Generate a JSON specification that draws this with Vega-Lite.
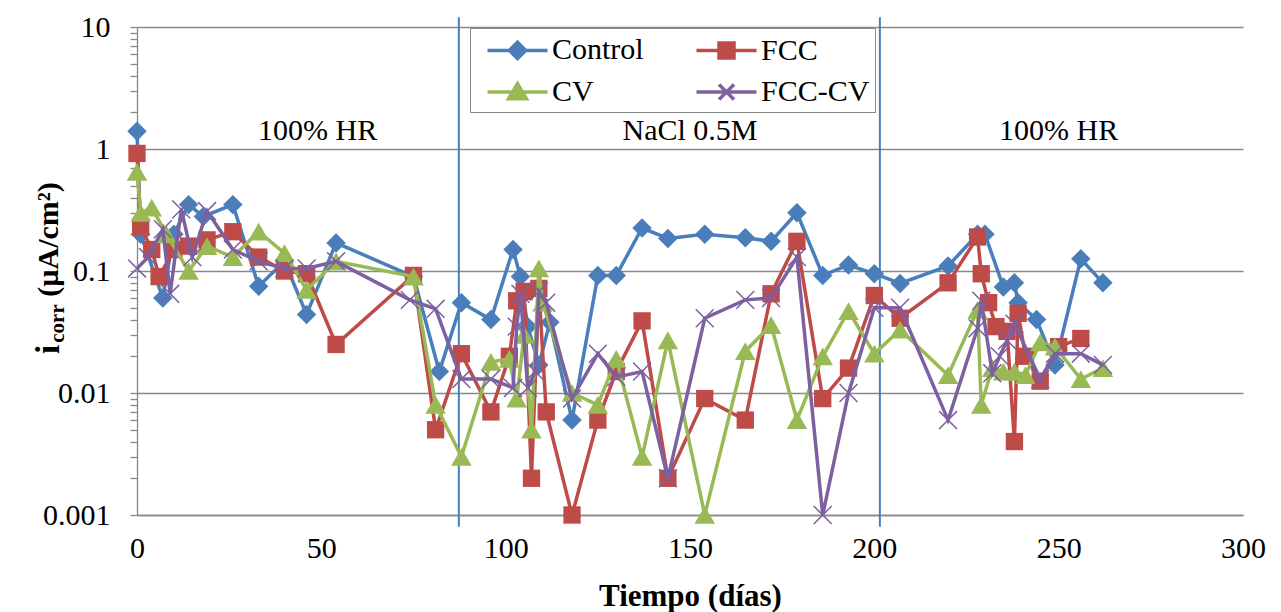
{
  "$schema": "https://vega.github.io/schema/vega-lite/v6.json",
  "width": 1106,
  "height": 488,
  "autosize": {"type": "none"},
  "padding": {"left": 137, "top": 27, "right": 38, "bottom": 97},
  "background": "white",
  "config": {
    "view": {"stroke": null},
    "font": "Liberation Serif",
    "axis": {"labelFont": "Liberation Serif", "titleFont": "Liberation Serif", "labelColor": "black", "titleColor": "black"}
  },
  "datasets": {
    "divisiones": [
      {"dia": 87.3, "ymin": 0.0008, "ymax": 12},
      {"dia": 201.5, "ymin": 0.0008, "ymax": 12}
    ],
    "zonas": [
      {"dia": 49, "y": 1.4, "t": "100% HR"},
      {"dia": 150, "y": 1.4, "t": "NaCl 0.5M"},
      {"dia": 250, "y": 1.4, "t": "100% HR"}
    ],
    "mediciones": [
      {"serie": "Control", "dia": 0, "icorr": 1.4},
      {"serie": "Control", "dia": 1, "icorr": 0.2},
      {"serie": "Control", "dia": 7, "icorr": 0.06},
      {"serie": "Control", "dia": 10, "icorr": 0.2},
      {"serie": "Control", "dia": 14, "icorr": 0.35},
      {"serie": "Control", "dia": 18, "icorr": 0.28},
      {"serie": "Control", "dia": 26, "icorr": 0.35},
      {"serie": "Control", "dia": 33, "icorr": 0.075},
      {"serie": "Control", "dia": 40, "icorr": 0.12},
      {"serie": "Control", "dia": 46, "icorr": 0.044},
      {"serie": "Control", "dia": 54, "icorr": 0.17},
      {"serie": "Control", "dia": 75, "icorr": 0.09},
      {"serie": "Control", "dia": 82, "icorr": 0.015},
      {"serie": "Control", "dia": 88, "icorr": 0.055},
      {"serie": "Control", "dia": 96, "icorr": 0.04},
      {"serie": "Control", "dia": 102, "icorr": 0.15},
      {"serie": "Control", "dia": 104, "icorr": 0.09},
      {"serie": "Control", "dia": 106, "icorr": 0.035},
      {"serie": "Control", "dia": 109, "icorr": 0.017},
      {"serie": "Control", "dia": 112, "icorr": 0.038},
      {"serie": "Control", "dia": 118, "icorr": 0.006},
      {"serie": "Control", "dia": 125, "icorr": 0.092},
      {"serie": "Control", "dia": 130, "icorr": 0.092},
      {"serie": "Control", "dia": 137, "icorr": 0.225},
      {"serie": "Control", "dia": 144, "icorr": 0.185},
      {"serie": "Control", "dia": 154, "icorr": 0.2},
      {"serie": "Control", "dia": 165, "icorr": 0.187},
      {"serie": "Control", "dia": 172, "icorr": 0.175},
      {"serie": "Control", "dia": 179, "icorr": 0.3},
      {"serie": "Control", "dia": 186, "icorr": 0.092},
      {"serie": "Control", "dia": 193, "icorr": 0.112},
      {"serie": "Control", "dia": 200, "icorr": 0.095},
      {"serie": "Control", "dia": 207, "icorr": 0.079},
      {"serie": "Control", "dia": 220, "icorr": 0.11},
      {"serie": "Control", "dia": 228, "icorr": 0.2},
      {"serie": "Control", "dia": 230, "icorr": 0.2},
      {"serie": "Control", "dia": 235, "icorr": 0.074},
      {"serie": "Control", "dia": 238, "icorr": 0.08},
      {"serie": "Control", "dia": 239, "icorr": 0.055},
      {"serie": "Control", "dia": 244, "icorr": 0.04},
      {"serie": "Control", "dia": 249, "icorr": 0.017},
      {"serie": "Control", "dia": 256, "icorr": 0.126},
      {"serie": "Control", "dia": 262, "icorr": 0.08},

      {"serie": "FCC", "dia": 0, "icorr": 0.92},
      {"serie": "FCC", "dia": 1, "icorr": 0.23},
      {"serie": "FCC", "dia": 4, "icorr": 0.15},
      {"serie": "FCC", "dia": 6, "icorr": 0.09},
      {"serie": "FCC", "dia": 10, "icorr": 0.15},
      {"serie": "FCC", "dia": 14, "icorr": 0.16},
      {"serie": "FCC", "dia": 19, "icorr": 0.18},
      {"serie": "FCC", "dia": 26, "icorr": 0.21},
      {"serie": "FCC", "dia": 33, "icorr": 0.13},
      {"serie": "FCC", "dia": 40, "icorr": 0.1},
      {"serie": "FCC", "dia": 46, "icorr": 0.095},
      {"serie": "FCC", "dia": 54, "icorr": 0.025},
      {"serie": "FCC", "dia": 75, "icorr": 0.092},
      {"serie": "FCC", "dia": 81, "icorr": 0.005},
      {"serie": "FCC", "dia": 88, "icorr": 0.021},
      {"serie": "FCC", "dia": 96, "icorr": 0.007},
      {"serie": "FCC", "dia": 101, "icorr": 0.02},
      {"serie": "FCC", "dia": 103, "icorr": 0.057},
      {"serie": "FCC", "dia": 105, "icorr": 0.068},
      {"serie": "FCC", "dia": 107, "icorr": 0.002},
      {"serie": "FCC", "dia": 109, "icorr": 0.072},
      {"serie": "FCC", "dia": 111, "icorr": 0.007},
      {"serie": "FCC", "dia": 118, "icorr": 0.001},
      {"serie": "FCC", "dia": 125, "icorr": 0.006},
      {"serie": "FCC", "dia": 130, "icorr": 0.015},
      {"serie": "FCC", "dia": 137, "icorr": 0.039},
      {"serie": "FCC", "dia": 144, "icorr": 0.002},
      {"serie": "FCC", "dia": 154, "icorr": 0.009},
      {"serie": "FCC", "dia": 165, "icorr": 0.006},
      {"serie": "FCC", "dia": 172, "icorr": 0.065},
      {"serie": "FCC", "dia": 179, "icorr": 0.175},
      {"serie": "FCC", "dia": 186, "icorr": 0.009},
      {"serie": "FCC", "dia": 193, "icorr": 0.016},
      {"serie": "FCC", "dia": 200, "icorr": 0.063},
      {"serie": "FCC", "dia": 207, "icorr": 0.041},
      {"serie": "FCC", "dia": 220, "icorr": 0.08},
      {"serie": "FCC", "dia": 228, "icorr": 0.19},
      {"serie": "FCC", "dia": 229, "icorr": 0.095},
      {"serie": "FCC", "dia": 231, "icorr": 0.055},
      {"serie": "FCC", "dia": 233, "icorr": 0.035},
      {"serie": "FCC", "dia": 236, "icorr": 0.032},
      {"serie": "FCC", "dia": 238, "icorr": 0.004},
      {"serie": "FCC", "dia": 239, "icorr": 0.045},
      {"serie": "FCC", "dia": 241, "icorr": 0.02},
      {"serie": "FCC", "dia": 245, "icorr": 0.0125},
      {"serie": "FCC", "dia": 250, "icorr": 0.024},
      {"serie": "FCC", "dia": 256, "icorr": 0.028},

      {"serie": "CV", "dia": 0, "icorr": 0.65},
      {"serie": "CV", "dia": 1, "icorr": 0.3},
      {"serie": "CV", "dia": 4, "icorr": 0.33},
      {"serie": "CV", "dia": 8, "icorr": 0.2},
      {"serie": "CV", "dia": 14, "icorr": 0.1},
      {"serie": "CV", "dia": 19, "icorr": 0.16},
      {"serie": "CV", "dia": 26, "icorr": 0.13},
      {"serie": "CV", "dia": 33, "icorr": 0.21},
      {"serie": "CV", "dia": 40, "icorr": 0.14},
      {"serie": "CV", "dia": 46, "icorr": 0.07},
      {"serie": "CV", "dia": 54, "icorr": 0.12},
      {"serie": "CV", "dia": 75, "icorr": 0.09},
      {"serie": "CV", "dia": 81, "icorr": 0.008},
      {"serie": "CV", "dia": 88, "icorr": 0.003},
      {"serie": "CV", "dia": 96, "icorr": 0.018},
      {"serie": "CV", "dia": 101, "icorr": 0.019},
      {"serie": "CV", "dia": 103, "icorr": 0.009},
      {"serie": "CV", "dia": 105, "icorr": 0.03},
      {"serie": "CV", "dia": 107, "icorr": 0.005},
      {"serie": "CV", "dia": 109, "icorr": 0.105},
      {"serie": "CV", "dia": 110, "icorr": 0.055},
      {"serie": "CV", "dia": 118, "icorr": 0.01},
      {"serie": "CV", "dia": 125, "icorr": 0.008},
      {"serie": "CV", "dia": 130, "icorr": 0.019},
      {"serie": "CV", "dia": 137, "icorr": 0.003},
      {"serie": "CV", "dia": 144, "icorr": 0.027},
      {"serie": "CV", "dia": 154, "icorr": 0.001},
      {"serie": "CV", "dia": 165, "icorr": 0.022},
      {"serie": "CV", "dia": 172, "icorr": 0.036},
      {"serie": "CV", "dia": 179, "icorr": 0.006},
      {"serie": "CV", "dia": 186, "icorr": 0.02},
      {"serie": "CV", "dia": 193, "icorr": 0.047},
      {"serie": "CV", "dia": 200, "icorr": 0.021},
      {"serie": "CV", "dia": 207, "icorr": 0.033},
      {"serie": "CV", "dia": 220, "icorr": 0.014},
      {"serie": "CV", "dia": 228, "icorr": 0.048},
      {"serie": "CV", "dia": 229, "icorr": 0.008},
      {"serie": "CV", "dia": 232, "icorr": 0.016},
      {"serie": "CV", "dia": 235, "icorr": 0.015},
      {"serie": "CV", "dia": 238, "icorr": 0.015},
      {"serie": "CV", "dia": 241, "icorr": 0.014},
      {"serie": "CV", "dia": 245, "icorr": 0.026},
      {"serie": "CV", "dia": 249, "icorr": 0.024},
      {"serie": "CV", "dia": 256, "icorr": 0.013},
      {"serie": "CV", "dia": 262, "icorr": 0.016},

      {"serie": "FCC-CV", "dia": 0, "icorr": 0.105},
      {"serie": "FCC-CV", "dia": 3, "icorr": 0.13},
      {"serie": "FCC-CV", "dia": 7, "icorr": 0.22},
      {"serie": "FCC-CV", "dia": 9, "icorr": 0.065},
      {"serie": "FCC-CV", "dia": 12, "icorr": 0.32},
      {"serie": "FCC-CV", "dia": 15, "icorr": 0.13},
      {"serie": "FCC-CV", "dia": 19, "icorr": 0.31},
      {"serie": "FCC-CV", "dia": 26, "icorr": 0.15},
      {"serie": "FCC-CV", "dia": 33, "icorr": 0.12},
      {"serie": "FCC-CV", "dia": 40, "icorr": 0.105},
      {"serie": "FCC-CV", "dia": 46, "icorr": 0.105},
      {"serie": "FCC-CV", "dia": 54, "icorr": 0.12},
      {"serie": "FCC-CV", "dia": 74, "icorr": 0.058},
      {"serie": "FCC-CV", "dia": 81, "icorr": 0.049},
      {"serie": "FCC-CV", "dia": 88, "icorr": 0.013},
      {"serie": "FCC-CV", "dia": 96, "icorr": 0.013},
      {"serie": "FCC-CV", "dia": 102, "icorr": 0.011},
      {"serie": "FCC-CV", "dia": 103, "icorr": 0.035},
      {"serie": "FCC-CV", "dia": 104, "icorr": 0.065},
      {"serie": "FCC-CV", "dia": 106, "icorr": 0.011},
      {"serie": "FCC-CV", "dia": 108, "icorr": 0.015},
      {"serie": "FCC-CV", "dia": 109, "icorr": 0.068},
      {"serie": "FCC-CV", "dia": 111, "icorr": 0.055},
      {"serie": "FCC-CV", "dia": 118, "icorr": 0.009},
      {"serie": "FCC-CV", "dia": 125, "icorr": 0.021},
      {"serie": "FCC-CV", "dia": 130, "icorr": 0.0135},
      {"serie": "FCC-CV", "dia": 137, "icorr": 0.015},
      {"serie": "FCC-CV", "dia": 144, "icorr": 0.002},
      {"serie": "FCC-CV", "dia": 154, "icorr": 0.041},
      {"serie": "FCC-CV", "dia": 165, "icorr": 0.058},
      {"serie": "FCC-CV", "dia": 172, "icorr": 0.06},
      {"serie": "FCC-CV", "dia": 179, "icorr": 0.13},
      {"serie": "FCC-CV", "dia": 186, "icorr": 0.001},
      {"serie": "FCC-CV", "dia": 193, "icorr": 0.01},
      {"serie": "FCC-CV", "dia": 200, "icorr": 0.05},
      {"serie": "FCC-CV", "dia": 207, "icorr": 0.05},
      {"serie": "FCC-CV", "dia": 220, "icorr": 0.006},
      {"serie": "FCC-CV", "dia": 228, "icorr": 0.034},
      {"serie": "FCC-CV", "dia": 229, "icorr": 0.057},
      {"serie": "FCC-CV", "dia": 232, "icorr": 0.0145},
      {"serie": "FCC-CV", "dia": 234, "icorr": 0.02},
      {"serie": "FCC-CV", "dia": 236, "icorr": 0.027},
      {"serie": "FCC-CV", "dia": 238, "icorr": 0.037},
      {"serie": "FCC-CV", "dia": 245, "icorr": 0.013},
      {"serie": "FCC-CV", "dia": 249, "icorr": 0.021},
      {"serie": "FCC-CV", "dia": 256, "icorr": 0.021},
      {"serie": "FCC-CV", "dia": 262, "icorr": 0.017}
    ]
  },
  "encoding": {
    "x": {
      "field": "dia",
      "type": "quantitative",
      "scale": {"domain": [0, 300], "nice": false, "zero": false},
      "axis": {
        "title": "Tiempo (días)",
        "values": [0, 50, 100, 150, 200, 250, 300],
        "grid": false,
        "ticks": false,
        "labelPadding": 18,
        "labelFontSize": 30,
        "labelFlush": false,
        "domainColor": "#888888",
        "domainWidth": 1.3,
        "titleFontSize": 31,
        "titleFontWeight": "bold",
        "titlePadding": 18
      }
    }
  },
  "layer": [
    {
      "data": {"name": "divisiones"},
      "mark": {"type": "rule", "color": "#4A7EBB", "strokeWidth": 2, "clip": false},
      "encoding": {
        "y": {
          "field": "ymin",
          "type": "quantitative",
          "scale": {"type": "log", "domain": [0.001, 10], "nice": false},
          "axis": {
            "orient": "left",
            "ticks": false,
            "labels": false,
            "domain": false,
            "grid": false,
            "title": "corr",
            "titleFontSize": 21,
            "titleFontWeight": "bold",
            "titleAngle": 270,
            "titleAlign": "center",
            "titleBaseline": "middle",
            "titleX": -80,
            "titleY": 296
          }
        },
        "y2": {"field": "ymax"}
      }
    },
    {
      "data": {"name": "zonas"},
      "mark": {"type": "text", "font": "Liberation Serif", "fontSize": 30, "color": "black", "align": "center", "baseline": "middle"},
      "encoding": {
        "y": {
          "field": "y",
          "type": "quantitative",
          "scale": {"type": "log", "domain": [0.001, 10], "nice": false},
          "axis": {
            "orient": "left",
            "values": [0.002, 0.003, 0.004, 0.005, 0.006, 0.007, 0.008, 0.009, 0.02, 0.03, 0.04, 0.05, 0.06, 0.07, 0.08, 0.09, 0.2, 0.3, 0.4, 0.5, 0.6, 0.7, 0.8, 0.9, 2, 3, 4, 5, 6, 7, 8, 9],
            "labels": false,
            "domain": false,
            "grid": false,
            "tickSize": 7,
            "tickColor": "#888888",
            "tickWidth": 1.3,
            "title": "i",
            "titleFontSize": 33,
            "titleFontWeight": "bold",
            "titleAngle": 270,
            "titleAlign": "center",
            "titleBaseline": "middle",
            "titleX": -89,
            "titleY": 322
          }
        },
        "text": {"field": "t"}
      }
    },
    {
      "data": {"name": "mediciones"},
      "encoding": {
        "y": {
          "field": "icorr",
          "type": "quantitative",
          "scale": {"type": "log", "domain": [0.001, 10], "nice": false},
          "axis": {
            "orient": "left",
            "values": [0.001, 0.01, 0.1, 1, 10],
            "format": "~g",
            "grid": true,
            "gridColor": "#888888",
            "gridWidth": 1.3,
            "domainColor": "#888888",
            "domainWidth": 1.3,
            "tickColor": "#888888",
            "tickWidth": 1.3,
            "tickSize": 7,
            "labelFontSize": 30,
            "labelPadding": 20,
            "title": "(µA/cm²)",
            "titleFontSize": 30,
            "titleFontWeight": "bold",
            "titleAngle": 270,
            "titleAlign": "center",
            "titleBaseline": "middle",
            "titleX": -89,
            "titleY": 212
          }
        },
        "color": {
          "field": "serie",
          "type": "nominal",
          "scale": {
            "domain": ["Control", "FCC", "CV", "FCC-CV"],
            "range": ["#4A7EBB", "#BE4B48", "#98B954", "#7D60A0"]
          },
          "legend": {
            "title": null,
            "orient": "none",
            "legendX": 333,
            "legendY": 1,
            "direction": "horizontal",
            "columns": 2,
            "columnPadding": 40,
            "rowPadding": 9,
            "symbolSize": 900,
            "labelOffset": 43,
            "labelFontSize": 30,
            "labelFont": "Liberation Serif",
            "labelColor": "black",
            "padding": 5,
            "strokeColor": "#888888",
            "fillColor": "white",
            "encode": {
              "symbols": {
                "update": {
                  "shape": {"signal": "datum.value === 'Control' ? 'M-0.3,0H3.7M1.15,0L1.7,-0.55L2.25,0L1.7,0.55Z' : datum.value === 'FCC' ? 'M-0.3,0H3.7M1.2,-0.5H2.2V0.5H1.2Z' : datum.value === 'CV' ? 'M-0.3,0H3.7M1.7,-0.55L2.3,0.45H1.1Z' : 'M-0.3,0H3.7M1.2,-0.5L2.2,0.5M1.2,0.5L2.2,-0.5'"},
                  "fill": {"signal": "scale('color', datum.value)"},
                  "stroke": {"signal": "scale('color', datum.value)"},
                  "strokeWidth": {"value": 3.5},
                  "opacity": {"value": 1},
                  "fillOpacity": {"value": 1},
                  "strokeOpacity": {"value": 1}
                }
              }
            }
          }
        }
      },
      "layer": [
        {
          "transform": [{"filter": "datum.serie === 'Control'"}],
          "mark": {"type": "line", "strokeWidth": 3.5, "clip": false}
        },
        {
          "transform": [{"filter": "datum.serie === 'Control'"}],
          "mark": {"type": "point", "shape": "diamond", "size": 380, "filled": true, "opacity": 1, "clip": false}
        },
        {
          "transform": [{"filter": "datum.serie === 'FCC'"}],
          "mark": {"type": "line", "strokeWidth": 3.5, "clip": false}
        },
        {
          "transform": [{"filter": "datum.serie === 'FCC'"}],
          "mark": {"type": "point", "shape": "square", "size": 300, "filled": true, "opacity": 1, "clip": false}
        },
        {
          "transform": [{"filter": "datum.serie === 'CV'"}],
          "mark": {"type": "line", "strokeWidth": 3.5, "clip": false}
        },
        {
          "transform": [{"filter": "datum.serie === 'CV'"}],
          "mark": {"type": "point", "shape": "triangle-up", "size": 420, "filled": true, "opacity": 1, "clip": false}
        },
        {
          "transform": [{"filter": "datum.serie === 'FCC-CV'"}],
          "mark": {"type": "line", "strokeWidth": 3.5, "clip": false}
        },
        {
          "transform": [{"filter": "datum.serie === 'FCC-CV'"}],
          "mark": {"type": "point", "shape": "M-1,-1L1,1M-1,1L1,-1", "size": 320, "filled": false, "strokeWidth": 1.5, "opacity": 1, "clip": false}
        }
      ]
    }
  ],
  "resolve": {"axis": {"y": "independent"}}
}
